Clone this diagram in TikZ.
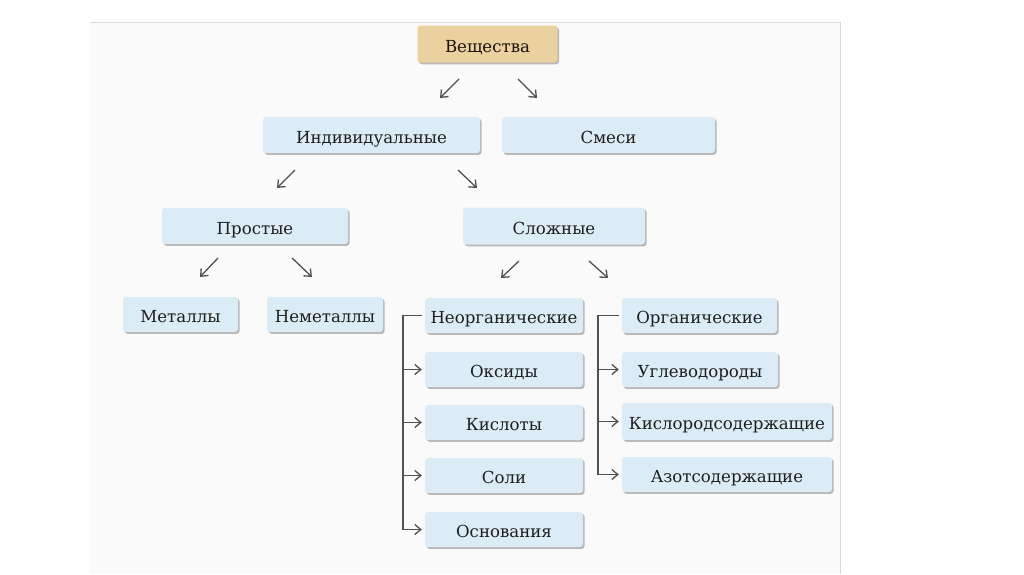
\documentclass[tikz,border=0pt]{standalone}
\usepackage{fontspec}
\setmainfont{DejaVu Serif}
\usetikzlibrary{arrows.meta,shadows}
\definecolor{boxblue}{HTML}{DCECF7}
\definecolor{boxtan}{HTML}{EBD0A0}
\definecolor{txt}{HTML}{1E1E1E}
\definecolor{arrc}{HTML}{505050}
\tikzset{
  box/.style={rectangle, rounded corners=3pt, fill=boxblue, draw=none,
    text=txt, font=\fontsize{16.6}{18}\selectfont, inner sep=0pt,
    text height=16.6pt, text depth=0pt,
    drop shadow={shadow xshift=1.6pt, shadow yshift=-1.8pt, fill=black!50, opacity=0.55}},
  topbox/.style={box, fill=boxtan, text=black!85!brown},
  arr/.style={draw=arrc, line width=1.3pt, -{Straight Barb[length=6pt,width=10pt]}},
  conn/.style={draw=arrc, line width=1.3pt},
}
\begin{document}
\begin{tikzpicture}[x=1pt,y=-1pt]
\useasboundingbox (0,0) rectangle (1024,574);
\fill[white] (0,0) rectangle (1024,574);
% page
\fill[black!2] (90,22) rectangle (840,574);
\draw[black!15, line width=1pt] (90,22) -- (840,22) -- (840,574);
% nodes
\node[topbox, minimum width=140pt, minimum height=37pt] (ves) at (487.5,44) {Вещества};
\node[box, minimum width=217pt, minimum height=36pt] (ind) at (371.5,135) {Индивидуальные};
\node[box, minimum width=213pt, minimum height=36pt] (sme) at (608.5,135) {Смеси};
\node[box, minimum width=186pt, minimum height=36pt] (pro) at (255,226) {Простые};
\node[box, minimum width=182pt, minimum height=37pt] (slo) at (554,226) {Сложные};
\node[box, minimum width=115pt, minimum height=35pt] (met) at (180.5,314.5) {Металлы};
\node[box, minimum width=116pt, minimum height=35pt] (nem) at (325,314.5) {Неметаллы};
\node[box, minimum width=158pt, minimum height=35pt] (neo) at (504,315.5) {Неорганические};
\node[box, minimum width=158pt, minimum height=35pt] (oks) at (504,369.5) {Оксиды};
\node[box, minimum width=158pt, minimum height=35pt] (kis) at (504,422.5) {Кислоты};
\node[box, minimum width=158pt, minimum height=35pt] (sol) at (504,475.5) {Соли};
\node[box, minimum width=158pt, minimum height=35pt] (osn) at (504,529.5) {Основания};
\node[box, minimum width=155pt, minimum height=35pt] (org) at (699.5,315.5) {Органические};
\node[box, minimum width=156pt, minimum height=35pt] (ugl) at (700,369.5) {Углеводороды};
\node[box, minimum width=210pt, minimum height=37pt] (kisl) at (727,421.5) {Кислородсодержащие};
\node[box, minimum width=210pt, minimum height=35pt] (azo) at (727,474.5) {Азотсодержащие};
% diagonal arrows
\coordinate (a1s) at (459,79);  \coordinate (a1e) at (440,98);
\coordinate (a2s) at (518,79);  \coordinate (a2e) at (537,98);
\coordinate (b1s) at (295,170); \coordinate (b1e) at (277,188);
\coordinate (b2s) at (458,170); \coordinate (b2e) at (477,188);
\coordinate (c1s) at (218,258); \coordinate (c1e) at (200,277);
\coordinate (c2s) at (292,258); \coordinate (c2e) at (312,277);
\coordinate (d1s) at (519,261); \coordinate (d1e) at (501,278);
\coordinate (d2s) at (589,261); \coordinate (d2e) at (608,278);
\foreach \s in {a1,a2,b1,b2,c1,c2,d1,d2}
  \draw[arr] (\s s) -- (\s e);
% brackets
\coordinate (bl) at (403,315);
\coordinate (br) at (598,315);
\draw[conn] ([xshift=-3pt]neo.west) -- (bl |- neo.west) -- (bl |- osn.west);
\foreach \n in {oks,kis,sol,osn}
  \draw[arr] (bl |- \n.west) -- ([xshift=-3pt]\n.west);
\draw[conn] ([xshift=-3pt]org.west) -- (br |- org.west) -- (br |- azo.west);
\foreach \n in {ugl,kisl,azo}
  \draw[arr] (br |- \n.west) -- ([xshift=-3pt]\n.west);
\end{tikzpicture}
\end{document}
